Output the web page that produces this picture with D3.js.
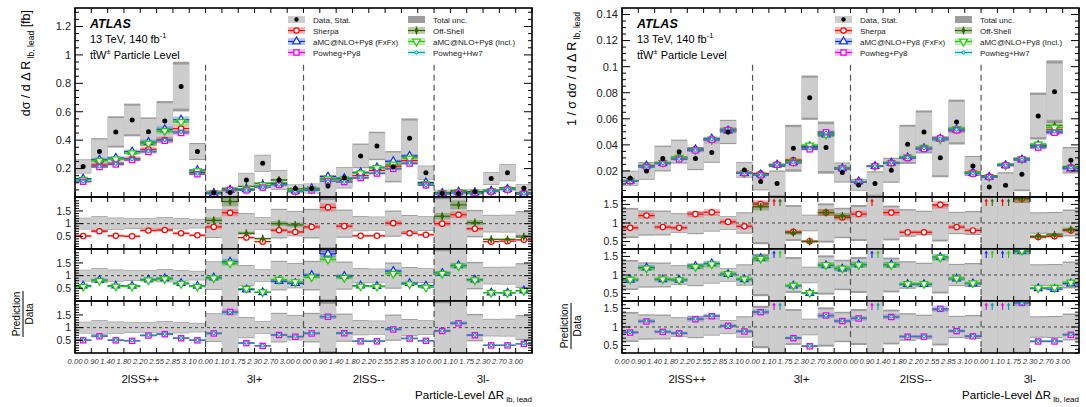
<!DOCTYPE html>
<html>
<head>
<meta charset="utf-8">
<script src="https://cdn.jsdelivr.net/npm/d3@7"></script>
<style>
body { margin: 0; background: #fff; }
svg text { font-family: "Liberation Sans", Arial, Helvetica, sans-serif; }
</style>
</head>
<body>
<svg id="chart" width="1086" height="407"><defs></defs></svg>
<script>
// bins: 4 regions, labels are the lower bin edges
const nBins = 28;
const edgeLabels = ["0.00","0.90","1.40","1.80","2.20","2.55","2.85","3.10",
  "0.00","1.10","1.75","2.30","2.70","3.00",
  "0.00","0.90","1.40","1.80","2.20","2.55","2.85","3.10",
  "0.00","1.10","1.75","2.30","2.70","3.00"];
const regionNames = ["2lSS++", "3l+", "2lSS--", "3l-"];
const regionBounds = [0, 8, 14, 22, 28];
const modelNames = ["Sherpa", "Off-Shell", "aMC@NLO+Py8 (FxFx)", "aMC@NLO+Py8 (Incl.)", "Powheg+Py8", "Powheg+Hw7"];

// ---- absolute cross section [fb]
const dataAbs = [0.215, 0.32, 0.458, 0.542, 0.46, 0.535, 0.777, 0.32,
  0.03, 0.031, 0.12, 0.237, 0.12, 0.06,
  0.06, 0.077, 0.135, 0.289, 0.359, 0.213, 0.413, 0.171,
  0.025, 0.025, 0.037, 0.13, 0.171, 0.061];
const statAbs = [0.045, 0.085, 0.097, 0.1, 0.09, 0.125, 0.155, 0.052,
  0.016, 0.036, 0.046, 0.055, 0.065, 0.028,
  0.032, 0.072, 0.069, 0.078, 0.09, 0.1, 0.125, 0.045,
  0.024, 0.028, 0.018, 0.041, 0.055, 0.027];
const totAbs = [0.05, 0.094, 0.11, 0.115, 0.1, 0.14, 0.175, 0.06,
  0.017, 0.04, 0.05, 0.06, 0.07, 0.03,
  0.035, 0.078, 0.075, 0.087, 0.1, 0.11, 0.14, 0.05,
  0.026, 0.03, 0.02, 0.045, 0.06, 0.03];
// prediction / data
const sherpaAbs = [0.51,0.70,0.52,0.50,0.73,0.75,0.62,0.54, 0.87,1.43,0.45,0.29,0.74,0.67,
  0.87,1.64,0.90,0.52,0.52,1.02,0.62,0.56, 1.0,1.35,0.80,0.29,0.31,0.36];
const offShellAbs = [null,null,null,null,null,null,null,null, 1.13,1.87,0.62,0.41,1.0,0.95,
  null,null,null,null,null,null,null,null, 1.29,1.74,1.04,0.38,0.38,0.48];
const fxfxAbs = [0.60,0.82,0.60,0.59,0.84,0.89,0.70,0.59, 0.92,1.55,0.45,0.34,0.78,0.70,
  1.02,1.86,0.98,0.60,0.58,1.18,0.70,0.60, 1.10,1.40,0.84,0.33,0.32,0.41];
const inclAbs = [0.57,0.80,0.58,0.57,0.82,0.87,0.68,0.57, 0.90,1.49,0.49,0.35,0.84,0.75,
  0.94,1.64,0.92,0.58,0.57,1.08,0.66,0.54, 1.08,1.38,0.82,0.33,0.32,0.40];
const py8Abs = [0.50,0.66,0.50,0.48,0.69,0.74,0.58,0.50, 0.77,1.62,0.39,0.28,0.71,0.64,
  0.77,1.43,0.78,0.46,0.46,0.93,0.57,0.48, 0.87,1.17,0.70,0.30,0.30,0.36];
const hw7Abs = [0.51,0.67,0.51,0.49,0.70,0.75,0.59,0.51, 0.78,1.60,0.40,0.29,0.72,0.65,
  0.78,1.44,0.79,0.47,0.47,0.94,0.58,0.49, 0.88,1.18,0.71,0.31,0.31,0.37];

// ---- normalised cross section
const dataNorm = [0.0144, 0.020, 0.0295, 0.0348, 0.0295, 0.0341, 0.0499, 0.0208,
  0.0119, 0.0103, 0.0374, 0.0762, 0.0379, 0.0188,
  0.0093, 0.0103, 0.0205, 0.0404, 0.0499, 0.0302, 0.0575, 0.0238,
  0.0077, 0.009, 0.0175, 0.0621, 0.0808, 0.0282];
const statNorm = [0.0052,0.0061,0.0089,0.0083,0.0080,0.0071,0.0084,0.0054,
  0.0061,0.0090,0.0162,0.0153,0.0180,0.0069,
  0.0040,0.0085,0.0086,0.0135,0.0149,0.0135,0.0155,0.0069,
  0.0079,0.0090,0.0117,0.0162,0.0216,0.0092];
const totNorm = [0.0058,0.0068,0.0099,0.0092,0.0089,0.0079,0.0093,0.0060,
  0.0068,0.0100,0.018,0.017,0.020,0.0077,
  0.0045,0.0094,0.0096,0.015,0.0165,0.015,0.0172,0.0077,
  0.0088,0.010,0.013,0.018,0.024,0.0102];
const sherpaNorm = [0.87,1.20,0.89,0.87,1.24,1.29,1.03,0.91, 1.51,2.4,0.76,0.51,1.28,1.15,
  1.24,2.3,1.28,0.75,0.75,1.49,0.89,0.80, 2.0,2.7,1.65,0.62,0.64,0.80];
const offShellNorm = [null,null,null,null,null,null,null,null, 1.44,2.3,0.74,0.50,1.28,1.19,
  null,null,null,null,null,null,null,null, 2.1,2.8,1.66,0.64,0.68,0.82];
const fxfxNorm = [0.87,1.20,0.88,0.87,1.24,1.31,1.02,0.88, 1.45,2.4,0.71,0.51,1.26,1.17,
  1.28,2.3,1.28,0.75,0.75,1.48,0.90,0.77, 2.0,2.7,1.64,0.64,0.62,0.77];
const inclNorm = [0.88,1.18,0.89,0.87,1.22,1.29,1.03,0.89, 1.44,2.4,0.72,0.52,1.27,1.18,
  1.27,2.3,1.27,0.76,0.76,1.47,0.91,0.78, 2.0,2.7,1.66,0.65,0.66,0.80];
const py8Norm = [0.85,1.15,0.87,0.83,1.21,1.29,1.03,0.88, 1.40,2.4,0.70,0.48,1.31,1.16,
  1.23,2.3,1.27,0.74,0.74,1.49,0.89,0.75, 2.0,2.7,1.65,0.61,0.61,0.79];
const hw7Norm = [0.86,1.16,0.88,0.84,1.22,1.30,1.03,0.89, 1.41,2.4,0.71,0.49,1.30,1.17,
  1.24,2.3,1.28,0.75,0.75,1.48,0.90,0.76, 2.0,2.7,1.64,0.62,0.62,0.80];

// relative theory uncertainty of each prediction (band height)
const uncAbs = [0.10, 0.10, 0.075, 0.075, 0.065, 0.065];
const uncNorm = [0.07, 0.07, 0.06, 0.06, 0.05, 0.05];

// ---- styles
const modelStyle = [
  {color: "#ff0000", band: "rgba(235,60,60,0.35)", mk: "circle"},
  {color: "#2f6a00", band: "rgba(60,110,20,0.35)", mk: "cross"},
  {color: "#0a2cff", band: "rgba(40,80,230,0.32)", mk: "triUp"},
  {color: "#22cc00", band: "rgba(60,200,30,0.32)", mk: "triDown"},
  {color: "#ee00ee", band: "rgba(200,60,230,0.32)", mk: "square"},
  {color: "#00a0a0", band: "rgba(0,160,160,0.15)", mk: "dot"}
];
const ratioPairs = [[0, 1], [2, 3], [4, 5]];
const drawOrder = [0, 1, 2, 3, 4, 5];

const svg = d3.select("#chart");
const defs = svg.select("defs");
const TOP0 = 8, TOP1 = 197, RH = 52;
const TOTC = "#9c9c9c", STATC = "#cdcdcd";

function fmt(v) { return d3.format("~g")(Math.round(v * 10000) / 10000); }

function marker(g, type, cx, cy, color) {
  if (type === "circle") {
    g.append("circle").attr("cx", cx).attr("cy", cy).attr("r", 2.7)
      .attr("fill", "white").attr("stroke", color).attr("stroke-width", 1.2);
  } else if (type === "square") {
    g.append("rect").attr("x", cx - 2.6).attr("y", cy - 2.6).attr("width", 5.2).attr("height", 5.2)
      .attr("fill", "white").attr("stroke", color).attr("stroke-width", 1.3);
  } else if (type === "triUp" || type === "triDown") {
    g.append("path").attr("d", d3.symbol(d3.symbolTriangle, 26)())
      .attr("transform", `translate(${cx},${cy}) rotate(${type === "triUp" ? 0 : 180})`)
      .attr("fill", "white").attr("stroke", color).attr("stroke-width", 1.2);
  } else if (type === "cross") {
    g.append("line").attr("x1", cx).attr("x2", cx).attr("y1", cy - 4).attr("y2", cy + 4)
      .attr("stroke", color).attr("stroke-width", 1.3);
    g.append("path").attr("d", d3.symbol(d3.symbolDiamond, 14)())
      .attr("transform", `translate(${cx},${cy})`).attr("fill", color);
  } else {
    g.append("circle").attr("cx", cx).attr("cy", cy).attr("r", 1.5)
      .attr("fill", "#bfeeee").attr("stroke", color).attr("stroke-width", 1);
  }
}

function clip(id, x, y, w, h) {
  defs.append("clipPath").attr("id", id).append("rect")
    .attr("x", x).attr("y", y).attr("width", w).attr("height", h);
  return `url(#${id})`;
}

function yTicks(g, scale, x0, x1, majors, minors, labelSize) {
  majors.forEach(v => {
    const yy = scale(v);
    g.append("line").attr("x1", x0).attr("x2", x0 + 8).attr("y1", yy).attr("y2", yy).attr("stroke", "#000");
    g.append("line").attr("x1", x1).attr("x2", x1 - 8).attr("y1", yy).attr("y2", yy).attr("stroke", "#000");
    g.append("text").attr("x", x0 - 4).attr("y", yy).attr("dy", "0.35em")
      .attr("text-anchor", "end").attr("font-size", labelSize).attr("fill", "#222").text(fmt(v));
  });
  minors.forEach(v => {
    const yy = scale(v);
    g.append("line").attr("x1", x0).attr("x2", x0 + 4).attr("y1", yy).attr("y2", yy).attr("stroke", "#000");
    g.append("line").attr("x1", x1).attr("x2", x1 - 4).attr("y1", yy).attr("y2", yy).attr("stroke", "#000");
  });
}

function xTicks(g, x, yTop, yBot) {
  d3.range(nBins + 1).forEach(i => {
    g.append("line").attr("x1", x(i)).attr("x2", x(i)).attr("y1", yBot).attr("y2", yBot - 5).attr("stroke", "#000");
    g.append("line").attr("x1", x(i)).attr("x2", x(i)).attr("y1", yTop).attr("y2", yTop + 5).attr("stroke", "#000");
  });
}

function drawPlot(P, id) {
  const x = d3.scaleLinear().domain([0, nBins]).range([P.x0, P.x1]);
  const bw = x(1) - x(0);
  const bins = d3.range(nBins);
  const g = svg.append("g");

  // ---------- top panel
  const y = d3.scaleLinear().domain(P.yDomain).range([TOP1, TOP0]);
  const gt = g.append("g").attr("clip-path", clip(id + "top", P.x0, TOP0, P.x1 - P.x0, TOP1 - TOP0));
  gt.selectAll(".tot").data(bins).join("rect")
    .attr("x", i => x(i)).attr("width", bw)
    .attr("y", i => y(P.data[i] + P.tot[i]))
    .attr("height", i => y(P.data[i] - P.tot[i]) - y(P.data[i] + P.tot[i]))
    .attr("fill", TOTC);
  gt.selectAll(".stat").data(bins).join("rect")
    .attr("x", i => x(i)).attr("width", bw)
    .attr("y", i => y(P.data[i] + P.stat[i]))
    .attr("height", i => y(P.data[i] - P.stat[i]) - y(P.data[i] + P.stat[i]))
    .attr("fill", STATC);
  regionBounds.slice(1, 4).forEach(b => {
    gt.append("line").attr("x1", x(b)).attr("x2", x(b))
      .attr("y1", TOP0 + 0.3 * (TOP1 - TOP0)).attr("y2", TOP1)
      .attr("stroke", "#555").attr("stroke-width", 1.2).attr("stroke-dasharray", "6,4");
  });
  drawOrder.forEach(m => {
    const st = modelStyle[m];
    bins.forEach(i => {
      const r = P.ratios[m][i];
      if (r == null) return;
      const v = P.data[i] * r, u = P.unc[m] * 0.6;
      gt.append("rect").attr("x", x(i)).attr("width", bw)
        .attr("y", y(v * (1 + u))).attr("height", y(v * (1 - u)) - y(v * (1 + u)))
        .attr("fill", st.band);
      gt.append("line").attr("x1", x(i)).attr("x2", x(i + 1)).attr("y1", y(v)).attr("y2", y(v))
        .attr("stroke", st.color).attr("stroke-width", 1.2);
      marker(gt, st.mk, x(i + 0.5), y(v), st.color);
    });
  });
  gt.selectAll(".dot").data(bins).join("circle")
    .attr("cx", i => x(i + 0.5)).attr("cy", i => y(P.data[i])).attr("r", 2.5).attr("fill", "#000");

  g.append("rect").attr("x", P.x0).attr("y", TOP0).attr("width", P.x1 - P.x0).attr("height", TOP1 - TOP0)
    .attr("fill", "none").attr("stroke", "#000").attr("stroke-width", 1.6);
  yTicks(g, y, P.x0, P.x1, P.yMajor, P.yMinor, 11);
  xTicks(g, x, TOP0, TOP1);

  // labels
  g.append("text").attr("x", P.x0 + 15).attr("y", 28).attr("font-size", 12.5)
    .attr("font-weight", "bold").attr("font-style", "italic").text("ATLAS");
  const t2 = g.append("text").attr("x", P.x0 + 15).attr("y", 43).attr("font-size", 11);
  t2.append("tspan").text("13 TeV, 140 fb");
  t2.append("tspan").attr("font-size", 7.5).attr("dy", -5).text("-1");
  const t3 = g.append("text").attr("x", P.x0 + 15).attr("y", 59).attr("font-size", 11);
  t3.append("tspan").text("t\u0074\u0304W");
  t3.append("tspan").attr("font-size", 7.5).attr("dy", -5).text("\u00b1");
  t3.append("tspan").attr("dy", 5).text(" Particle Level");

  // legend
  const lx = [P.x0 + 213, P.x0 + 333], rows = [19.5, 30.5, 41.5, 52.5];
  const lg = g.append("g");
  lg.append("rect").attr("x", lx[0]).attr("y", rows[0] - 3.5).attr("width", 17).attr("height", 7).attr("fill", STATC);
  lg.append("circle").attr("cx", lx[0] + 8.5).attr("cy", rows[0]).attr("r", 2.2).attr("fill", "#000");
  lg.append("rect").attr("x", lx[1]).attr("y", rows[0] - 3.5).attr("width", 17).attr("height", 7).attr("fill", TOTC);
  const legEntries = [["Data, Stat.", 0, 0], ["Total unc.", 1, 0]];
  const legModels = [[0, 0, 1], [2, 0, 2], [4, 0, 3], [1, 1, 1], [3, 1, 2], [5, 1, 3]];
  legModels.forEach(([m, c, r]) => {
    const st = modelStyle[m], yy = rows[r];
    lg.append("rect").attr("x", lx[c]).attr("y", yy - 3.5).attr("width", 17).attr("height", 7).attr("fill", st.band);
    lg.append("line").attr("x1", lx[c]).attr("x2", lx[c] + 17).attr("y1", yy).attr("y2", yy)
      .attr("stroke", st.color).attr("stroke-width", 1.2);
    marker(lg, st.mk, lx[c] + 8.5, yy, st.color);
    legEntries.push([modelNames[m], c, r]);
  });
  legEntries.forEach(([name, c, r]) => {
    lg.append("text").attr("x", lx[c] + 25).attr("y", rows[r] + 3).attr("font-size", 8).attr("fill", "#222").text(name);
  });

  // y title
  const yt = g.append("text").attr("transform", `translate(${P.x0 - P.yTitleOff},${P.yTitleEnd}) rotate(-90)`)
    .attr("text-anchor", "end").attr("font-size", 12.5);
  yt.append("tspan").text(P.yTitle);
  yt.append("tspan").attr("font-size", 8.5).attr("dy", 4).text(" lb, lead");
  if (P.yUnit) yt.append("tspan").attr("dy", -4).text(" " + P.yUnit);

  // ---------- ratio panels
  ratioPairs.forEach((pair, k) => {
    const y0 = TOP1 + k * RH, y1 = y0 + RH;
    const ry = d3.scaleLinear().domain(P.rDomain).range([y1, y0]);
    const gr = g.append("g").attr("clip-path", clip(id + "r" + k, P.x0, y0, P.x1 - P.x0, RH));
    gr.selectAll(".rt").data(bins).join("rect")
      .attr("x", i => x(i)).attr("width", bw)
      .attr("y", i => ry(1 + P.tot[i] / P.data[i]))
      .attr("height", i => ry(1 - P.tot[i] / P.data[i]) - ry(1 + P.tot[i] / P.data[i]))
      .attr("fill", TOTC);
    gr.selectAll(".rs").data(bins).join("rect")
      .attr("x", i => x(i)).attr("width", bw)
      .attr("y", i => ry(1 + P.stat[i] / P.data[i]))
      .attr("height", i => ry(1 - P.stat[i] / P.data[i]) - ry(1 + P.stat[i] / P.data[i]))
      .attr("fill", STATC);
    gr.append("line").attr("x1", P.x0).attr("x2", P.x1).attr("y1", ry(1)).attr("y2", ry(1))
      .attr("stroke", "#444").attr("stroke-width", 1).attr("stroke-dasharray", "3,3");
    regionBounds.slice(1, 4).forEach(b => {
      gr.append("line").attr("x1", x(b)).attr("x2", x(b)).attr("y1", y0).attr("y2", y1)
        .attr("stroke", "#555").attr("stroke-width", 1.2).attr("stroke-dasharray", "6,4");
    });
    pair.forEach((m, j) => {
      const st = modelStyle[m], u = P.unc[m];
      bins.forEach(i => {
        const r = P.ratios[m][i];
        if (r == null) return;
        if (r > P.rDomain[1]) {
          const ax = x(i + 0.5) + (j === 0 ? -3 : 3);
          gr.append("line").attr("x1", ax).attr("x2", ax).attr("y1", y0 + 9).attr("y2", y0 + 4)
            .attr("stroke", st.color).attr("stroke-width", 1.1);
          gr.append("path").attr("d", `M${ax - 1.8},${y0 + 4.5}L${ax},${y0 + 1.5}L${ax + 1.8},${y0 + 4.5}Z`)
            .attr("fill", st.color);
          return;
        }
        gr.append("rect").attr("x", x(i)).attr("width", bw)
          .attr("y", ry(r * (1 + u))).attr("height", ry(r * (1 - u)) - ry(r * (1 + u)))
          .attr("fill", st.band);
        gr.append("line").attr("x1", x(i)).attr("x2", x(i + 1)).attr("y1", ry(r)).attr("y2", ry(r))
          .attr("stroke", st.color).attr("stroke-width", 1.2);
        marker(gr, st.mk, x(i + 0.5), ry(r), st.color);
      });
    });
    g.append("rect").attr("x", P.x0).attr("y", y0).attr("width", P.x1 - P.x0).attr("height", RH)
      .attr("fill", "none").attr("stroke", "#000").attr("stroke-width", 1.6);
    const minors = d3.range(Math.ceil(P.rDomain[0] * 10), Math.floor(P.rDomain[1] * 10) + 1)
      .map(v => v / 10).filter(v => Math.abs(v * 2 - Math.round(v * 2)) > 1e-6);
    yTicks(g, ry, P.x0, P.x1, [0.5, 1, 1.5], minors, 10.5);
    xTicks(g, x, y0, y1);
  });

  // ratio label
  const fy = P.fracY;
  const fr = g.append("g").attr("transform", `translate(${P.x0 - P.fracOff},${fy}) rotate(-90)`);
  fr.append("text").attr("text-anchor", "middle").attr("y", -3).attr("font-size", 10).text("Prediction");
  fr.append("line").attr("x1", -23).attr("x2", 23).attr("y1", 0).attr("y2", 0).attr("stroke", "#000").attr("stroke-width", 1);
  fr.append("text").attr("text-anchor", "middle").attr("y", 9.5).attr("font-size", 10).text("Data");

  // x tick labels, regions, axis title
  const yB = TOP1 + 3 * RH;
  edgeLabels.forEach((lab, i) => {
    g.append("text").attr("x", x(i)).attr("y", yB + 11).attr("text-anchor", "middle")
      .attr("font-size", 7.6).attr("font-style", "italic").attr("fill", "#333").text(lab);
  });
  regionNames.forEach((name, k) => {
    g.append("text").attr("x", x((regionBounds[k] + regionBounds[k + 1]) / 2)).attr("y", yB + 30)
      .attr("text-anchor", "middle").attr("font-size", 11.5).attr("fill", "#111").text(name);
  });
  const xt = g.append("text").attr("x", P.x1).attr("y", yB + 46).attr("text-anchor", "end").attr("font-size", 11.5);
  xt.append("tspan").text("Particle-Level \u0394R");
  xt.append("tspan").attr("font-size", 8).attr("dy", 3).text(" lb, lead");
}

drawPlot({
  x0: 75, x1: 532,
  data: dataAbs, stat: statAbs, tot: totAbs,
  ratios: [sherpaAbs, offShellAbs, fxfxAbs, inclAbs, py8Abs, hw7Abs],
  unc: uncAbs,
  yDomain: [0, 1.33],
  yMajor: [0.2, 0.4, 0.6, 0.8, 1, 1.2],
  yMinor: d3.range(1, 27).map(v => v * 0.05).filter(v => Math.abs(v * 5 - Math.round(v * 5)) > 1e-6),
  rDomain: [0, 2.05],
  yTitle: "d\u03c3 / d \u0394 R", yUnit: "[fb]", yTitleOff: 45, yTitleEnd: 10,
  fracY: 314, fracOff: 52
}, "L");

drawPlot({
  x0: 622, x1: 1079,
  data: dataNorm, stat: statNorm, tot: totNorm,
  ratios: [sherpaNorm, offShellNorm, fxfxNorm, inclNorm, py8Norm, hw7Norm],
  unc: uncNorm,
  yDomain: [0, 0.145],
  yMajor: [0.02, 0.04, 0.06, 0.08, 0.1, 0.12, 0.14],
  yMinor: d3.range(1, 29).map(v => v * 0.005).filter(v => Math.abs(v * 50 - Math.round(v * 50)) > 1e-6),
  rDomain: [0.3, 1.7],
  yTitle: "1 / \u03c3 d\u03c3 / d \u0394 R", yUnit: null, yTitleOff: 46, yTitleEnd: 12,
  fracY: 326, fracOff: 51
}, "R");
</script>
</body>
</html>
